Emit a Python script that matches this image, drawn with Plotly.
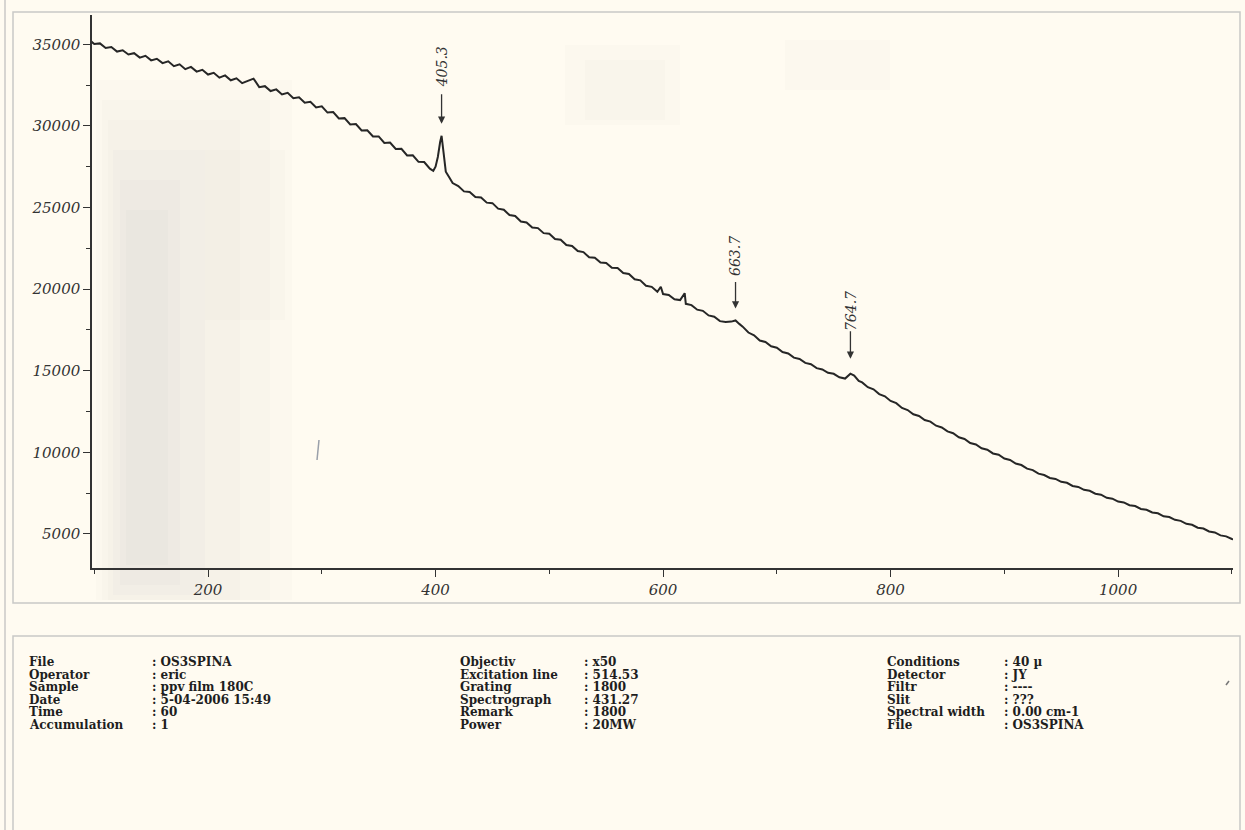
import plotly.graph_objects as go

# ---------------- data ----------------
raman_shift = [
    97, 100, 105, 110, 115, 120, 125, 130, 135, 140, 145, 150, 155, 160, 165, 170, 175, 180,
    185, 190, 195, 200, 205, 210, 215, 220, 225, 230, 235, 240, 245, 250, 255, 260, 265, 270,
    275, 280, 285, 290, 295, 300, 305, 310, 315, 320, 325, 330, 335, 340, 345, 350, 355, 360,
    365, 370, 375, 380, 385, 390, 395, 398, 400, 402, 404, 405.3, 407, 409, 412, 415, 420,
    425, 430, 435, 440, 445, 450, 455, 460, 465, 470, 475, 480, 485, 490, 495, 500, 505, 510,
    515, 520, 525, 530, 535, 540, 545, 550, 555, 560, 565, 570, 575, 580, 585, 590, 595, 598,
    600, 605, 610, 615, 619, 620, 625, 630, 635, 640, 645, 650, 655, 660, 663.7, 667, 670,
    675, 680, 685, 690, 695, 700, 705, 710, 715, 720, 725, 730, 735, 740, 745, 750, 755, 760,
    764.7, 768, 772, 775, 780, 785, 790, 795, 800, 805, 810, 815, 820, 825, 830, 835, 840,
    845, 850, 855, 860, 865, 870, 875, 880, 885, 890, 895, 900, 905, 910, 915, 920, 925, 930,
    935, 940, 945, 950, 955, 960, 965, 970, 975, 980, 985, 990, 995, 1000, 1005, 1010, 1015,
    1020, 1025, 1030, 1035, 1040, 1045, 1050, 1055, 1060, 1065, 1070, 1075, 1080, 1085, 1090,
    1095, 1100, 1102,
]
intensity = [
    35200, 35020, 35060, 34780, 34840, 34560, 34640, 34380, 34460, 34190, 34300, 34020, 34120,
    33850, 33960, 33660, 33780, 33480, 33620, 33330, 33440, 33150, 33260, 32960, 33100, 32800,
    32920, 32620, 32760, 32900, 32380, 32440, 32140, 32240, 31930, 32030, 31700, 31760, 31420,
    31480, 31130, 31200, 30820, 30850, 30460, 30480, 30090, 30120, 29720, 29740, 29360, 29360,
    28960, 28980, 28590, 28600, 28190, 28200, 27800, 27790, 27380, 27250, 27500, 28100, 29000,
    29400, 28400, 27200, 26850, 26500, 26320, 25990, 25960, 25650, 25620, 25300, 25270, 24930,
    24870, 24540, 24480, 24140, 24090, 23780, 23740, 23430, 23390, 23070, 23030, 22700, 22650,
    22330, 22270, 21950, 21920, 21630, 21600, 21310, 21290, 20990, 20930, 20600, 20540, 20210,
    20140, 19840, 20150, 19700, 19640, 19380, 19330, 19750, 19100, 19020, 18740, 18670, 18390,
    18310, 18040, 17990, 18010, 18080, 17870, 17700, 17340, 17170, 16850, 16760, 16500, 16410,
    16150, 16060, 15800, 15720, 15480, 15400, 15160, 15080, 14870, 14810, 14600, 14520, 14820,
    14700, 14380, 14280, 13990, 13860, 13570, 13430, 13150, 13010, 12720, 12590, 12330, 12230,
    11980, 11880, 11630, 11520, 11280, 11170, 10920, 10820, 10570, 10480, 10250, 10160, 9930,
    9850, 9620, 9530, 9310, 9220, 9000, 8910, 8690, 8610, 8430, 8370, 8190, 8130, 7940, 7880,
    7700, 7640, 7460, 7400, 7210, 7160, 6980, 6930, 6760, 6710, 6530, 6480, 6310, 6260, 6080,
    6030, 5860, 5800, 5620, 5560, 5380, 5330, 5150, 5090, 4910, 4850, 4690, 4660,
]

peak_positions = [405.3, 663.7, 764.7]
peak_labels = ["405.3", "663.7", "764.7"]

x_tick_values = [200, 400, 600, 800, 1000]
x_tick_labels = ["200", "400", "600", "800", "1000"]
y_tick_values = [5000, 10000, 15000, 20000, 25000, 30000, 35000]
y_tick_labels = ["5000", "10000", "15000", "20000", "25000", "30000", "35000"]

info_labels_1 = ["File", "Operator", "Sample", "Date", "Time", "Accumulation"]
info_values_1 = [": OS3SPINA", ": eric", ": ppv film 180C", ": 5-04-2006 15:49", ": 60", ": 1"]
info_labels_2 = ["Objectiv", "Excitation line", "Grating", "Spectrograph", "Remark", "Power"]
info_values_2 = [": x50", ": 514.53", ": 1800", ": 431.27", ": 1800", ": 20MW"]
info_labels_3 = ["Conditions", "Detector", "Filtr", "Slit", "Spectral width", "File"]
info_values_3 = [": 40 µ", ": JY", ": ----", ": ???", ": 0.00 cm-1", ": OS3SPINA"]

# ---------------- styling ----------------
W, H = 1245, 830
BG = "#fffbf1"
INK = "#262626"
FRAME = "#c9c9c6"
TICKFONT = dict(family="DejaVu Serif", size=15, color="#333333", style="italic")
INFOFONT = dict(family="DejaVu Serif", size=12, color="#1e1e1e", weight="bold")


def px(xp):
    return xp / W


def py(yp):
    return 1 - yp / H


fig = go.Figure()
fig.add_trace(go.Scatter(
    x=raman_shift, y=intensity, mode="lines",
    line=dict(color=INK, width=2), hoverinfo="skip", showlegend=False,
))

# peak markers: arrow + rotated label
arrow_offsets = [-43, -40, -44]
arrow_standoffs = [12, 12, 15]
label_shifts = [69, 64, 63]
for pos, lab, ao, so, ls in zip(peak_positions, peak_labels, arrow_offsets, arrow_standoffs, label_shifts):
    yv = intensity[raman_shift.index(pos)]
    fig.add_annotation(x=pos, y=yv, xref="x", yref="y", text="", showarrow=True,
                       ax=0, ay=ao, arrowhead=2, arrowsize=1.1, arrowwidth=1.3,
                       arrowcolor="#333333", standoff=so)
    fig.add_annotation(x=pos, y=yv, xref="x", yref="y", text=lab, showarrow=False,
                       textangle=-90, yshift=ls, font=dict(family="DejaVu Serif", size=14,
                                                          color="#333333", style="italic"))

# info table
cols = [(info_labels_1, info_values_1, 27, 150),
        (info_labels_2, info_values_2, 458, 582),
        (info_labels_3, info_values_3, 885, 1002)]
row_y = [662, 674.5, 687, 699.5, 712, 724.5]
for labels, values, xl, xv in cols:
    for lab, val, ry in zip(labels, values, row_y):
        fig.add_annotation(x=px(xl), y=py(ry), xref="paper", yref="paper", text=lab,
                           showarrow=False, xanchor="left", yanchor="middle", font=INFOFONT)
        fig.add_annotation(x=px(xv), y=py(ry), xref="paper", yref="paper", text=val,
                           showarrow=False, xanchor="left", yanchor="middle", font=INFOFONT)

shapes = []
# faint scan smudges (stacked thin layers to soften the edges)
smudges = [(96, 80, 292, 600, 0.035), (102, 100, 270, 600, 0.035), (108, 120, 240, 600, 0.04),
           (113, 150, 205, 595, 0.045), (120, 180, 180, 585, 0.05), (126, 210, 168, 565, 0.05),
           (205, 150, 285, 320, 0.035), (565, 45, 680, 125, 0.04), (585, 60, 665, 120, 0.04),
           (785, 40, 890, 90, 0.04)]
for (x0, y0, x1, y1, op) in smudges:
    shapes.append(dict(type="rect", xref="paper", yref="paper", x0=px(x0), x1=px(x1),
                       y0=py(y1), y1=py(y0), fillcolor="#a8adb8", opacity=op,
                       line=dict(width=0), layer="below"))
# page frames
shapes.append(dict(type="line", xref="paper", yref="paper", x0=px(5), x1=px(5), y0=0, y1=1,
                   line=dict(color="#bdbdbd", width=1.2)))
shapes.append(dict(type="rect", xref="paper", yref="paper", x0=px(13), x1=px(1240),
                   y0=py(603), y1=py(12), line=dict(color=FRAME, width=1.5)))
shapes.append(dict(type="rect", xref="paper", yref="paper", x0=px(13), x1=px(1240),
                   y0=py(840), y1=py(636), line=dict(color=FRAME, width=1.5)))
# pencil mark and specks
shapes.append(dict(type="line", xref="paper", yref="paper", x0=px(317), x1=px(319),
                   y0=py(460), y1=py(440), line=dict(color="#9aa0aa", width=1.5)))
shapes.append(dict(type="line", xref="paper", yref="paper", x0=px(1226), x1=px(1229),
                   y0=py(685), y1=py(681), line=dict(color="#777", width=1.5)))

fig.update_layout(
    width=W, height=H, margin=dict(l=0, r=0, t=0, b=0),
    paper_bgcolor=BG, plot_bgcolor="rgba(0,0,0,0)", shapes=shapes,
    xaxis=dict(domain=[px(92), px(1233)], range=[98, 1101], tickmode="array",
               tickvals=x_tick_values, ticktext=x_tick_labels, ticks="outside", ticklen=7,
               tickwidth=1.2, tickcolor="#333333", showline=True, linecolor="#333333",
               linewidth=1.5, showgrid=False, zeroline=False, tickfont=TICKFONT,
               minor=dict(tickvals=[100, 300, 500, 700, 900, 1100], ticks="outside",
                          ticklen=4, tickcolor="#333333")),
    yaxis=dict(domain=[py(568), py(15)], range=[2910, 36800], tickmode="array",
               tickvals=y_tick_values, ticktext=y_tick_labels, ticks="outside", ticklen=7,
               tickwidth=1.2, tickcolor="#333333", showline=True, linecolor="#333333",
               linewidth=1.5, showgrid=False, zeroline=False, tickfont=TICKFONT,
               minor=dict(tickvals=[7500, 12500, 17500, 22500, 27500, 32500], ticks="outside",
                          ticklen=4, tickcolor="#333333")),
)

fig.write_html("out.html", config={"displayModeBar": False},
               post_script="document.body.style.margin='0px';"
                           "document.body.style.overflow='hidden';")
